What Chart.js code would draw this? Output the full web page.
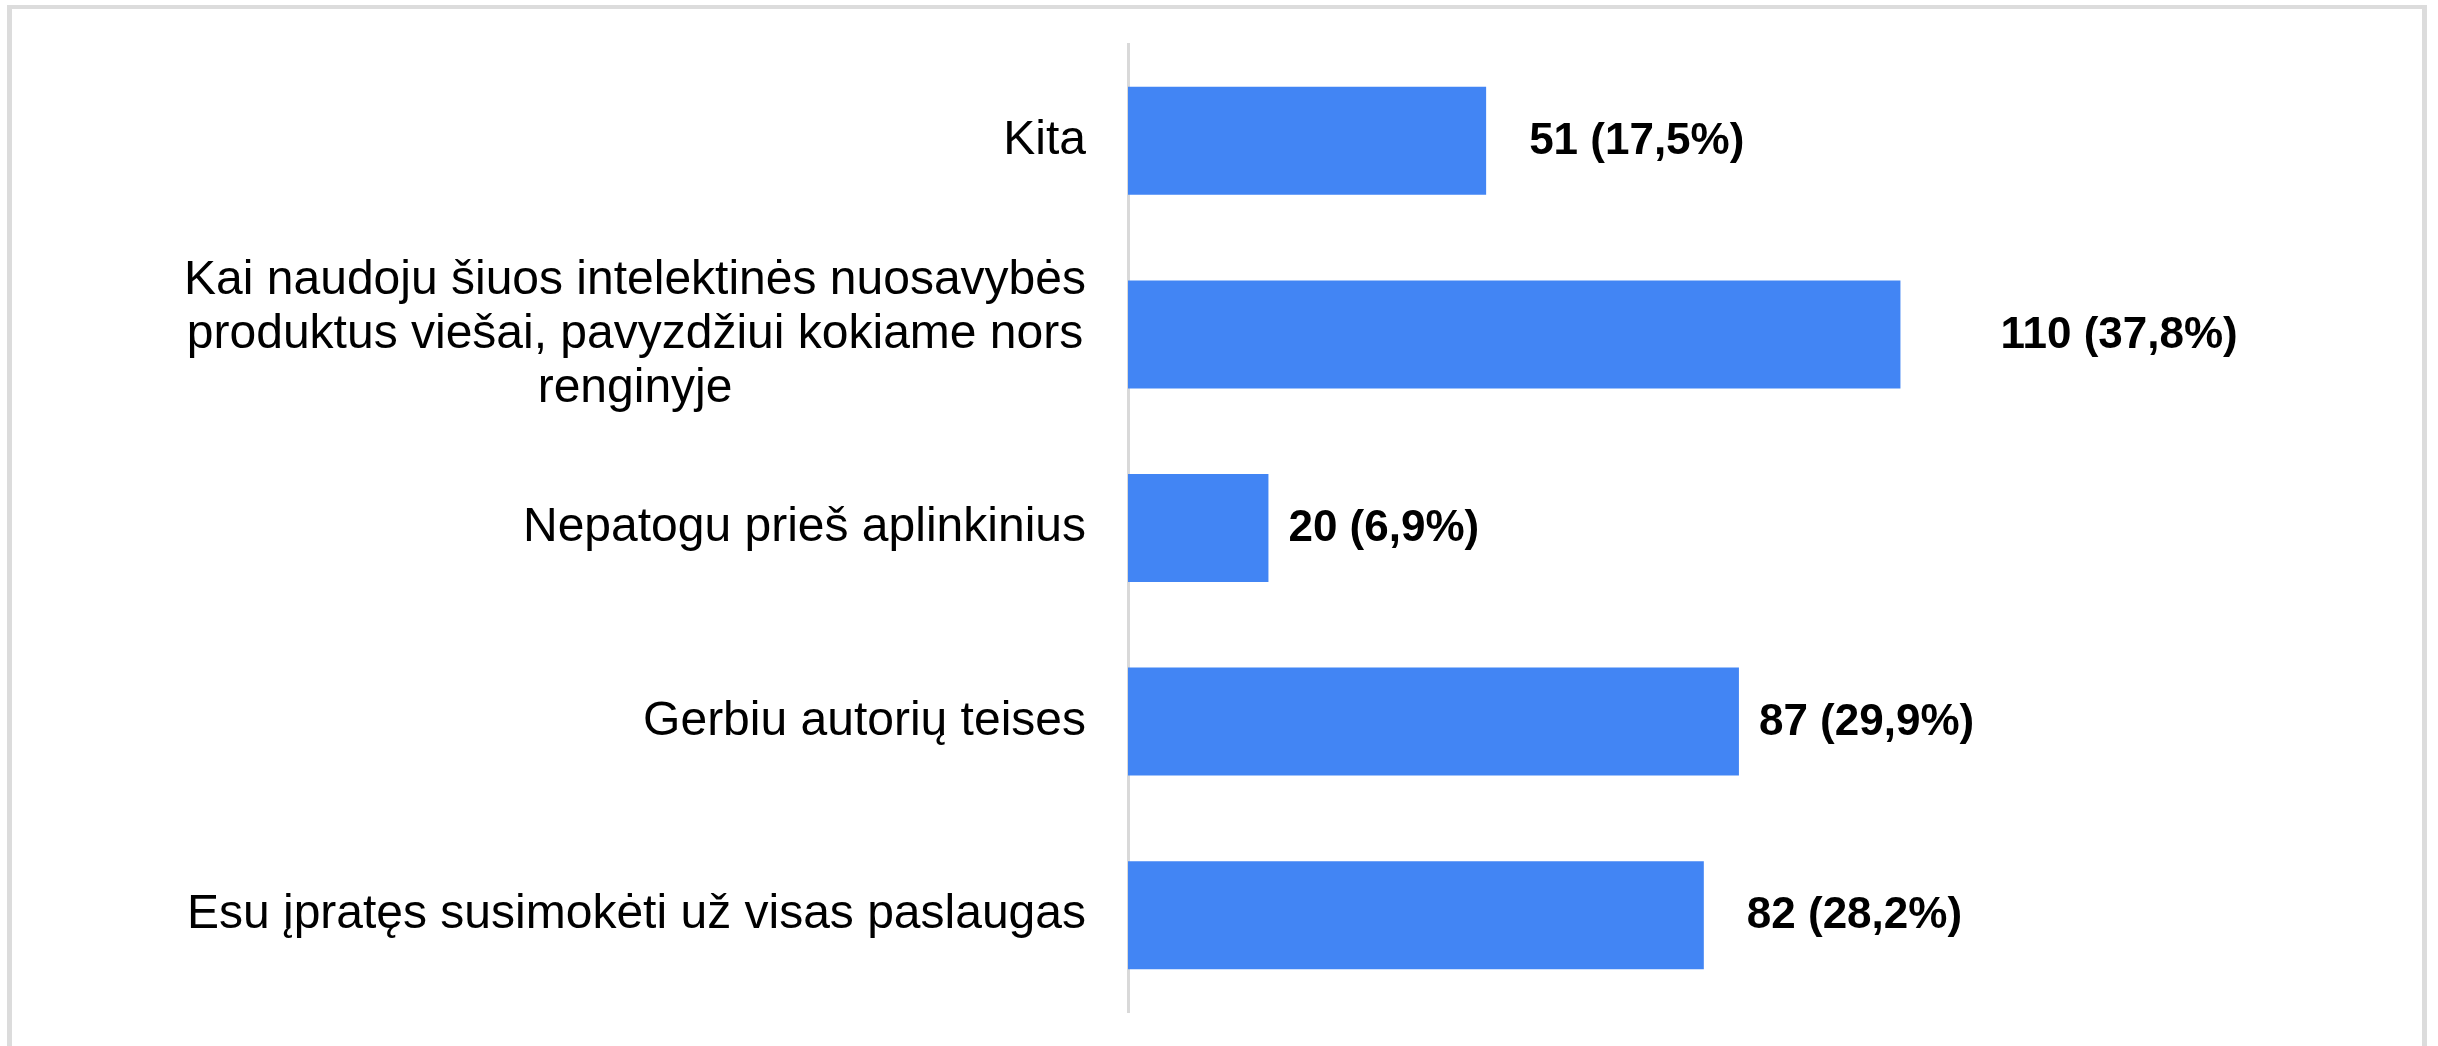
<!DOCTYPE html>
<html>
<head>
<meta charset="utf-8">
<script src="https://cdn.jsdelivr.net/npm/chart.js@4"></script>
<style>
  html, body { margin: 0; padding: 0; background: #fff; overflow: hidden; }
  #wrap { position: absolute; left: 0; top: 0; width: 2438px; height: 1046px; }
  #frame {
    position: absolute; left: 7px; top: 5px; width: 2420px; height: 1100px;
    box-sizing: border-box; border: 5px solid #dcdcdc; border-top-width: 4px;
    pointer-events: none;
  }
</style>
</head>
<body>
<div id="wrap"><canvas id="answersChart"></canvas></div>
<div id="frame"></div>
<script>
// answers, top to bottom
const categories = [
  'Kita',
  ['Kai naudoju šiuos intelektinės nuosavybės', 'produktus viešai, pavyzdžiui kokiame nors', 'renginyje'],
  'Nepatogu prieš aplinkinius',
  'Gerbiu autorių teises',
  'Esu įpratęs susimokėti už visas paslaugas'
];
const counts = [51, 110, 20, 87, 82];
const percents = ['17,5', '37,8', '6,9', '29,9', '28,2'];

// space between bar end and its value label (as in the original)
const labelGap = [43, 100, 20, 20, 43];

const FONT = '"Liberation Sans", Arial, sans-serif';

const categoryLabels = {
  id: 'categoryLabels',
  afterDraw(chart) {
    const scale = chart.scales.y;
    const ctx = chart.ctx;
    ctx.save();
    ctx.font = '48px ' + FONT;
    ctx.fillStyle = '#000';
    ctx.textBaseline = 'middle';
    ctx.textAlign = 'center';
    const right = scale.right - 42;
    const lh = 54;
    categories.forEach((lab, i) => {
      const lines = Array.isArray(lab) ? lab : [lab];
      const w = Math.max(...lines.map(l => ctx.measureText(l).width));
      const y0 = scale.getPixelForValue(i) - (lines.length - 1) * lh / 2;
      lines.forEach((l, j) => ctx.fillText(l, right - w / 2, y0 + j * lh));
    });
    ctx.restore();
  }
};

const valueLabels = {
  id: 'valueLabels',
  afterDatasetsDraw(chart) {
    const ctx = chart.ctx;
    const meta = chart.getDatasetMeta(0);
    ctx.save();
    ctx.font = 'bold 44px ' + FONT;
    ctx.fillStyle = '#000';
    ctx.textBaseline = 'middle';
    ctx.textAlign = 'left';
    meta.data.forEach((bar, i) => {
      ctx.fillText(counts[i] + ' (' + percents[i] + '%)', bar.x + labelGap[i], bar.y + 1);
    });
    ctx.restore();
  }
};

document.addEventListener('DOMContentLoaded', () => {
  var ctx = document.getElementById('answersChart');
  var options = {
    type: 'bar',
    data: {
      labels: categories,
      datasets: [{
        label: '',
        data: counts,
        backgroundColor: '#4285f4',
        barPercentage: 0.558,
        categoryPercentage: 1
      }]
    },
    options: {
      responsive: true,
      maintainAspectRatio: false,
      animation: false,
      indexAxis: 'y',
      layout: { padding: { left: 0, top: 44, right: 46, bottom: 34 } },
      scales: {
        x: {
          display: false,
          min: 0,
          max: 180
        },
        y: {
          grid: { display: false },
          border: { display: true, color: '#d9d9d9', width: 3 },
          ticks: { display: false },
          afterFit: function(scale) { scale.width = 1128; }
        }
      },
      plugins: {
        legend: { display: false },
        title: { display: false },
        tooltip: { enabled: false }
      }
    },
    plugins: [categoryLabels, valueLabels]
  };

  let answersChart = new Chart(ctx, options);
});
</script>
</body>
</html>
